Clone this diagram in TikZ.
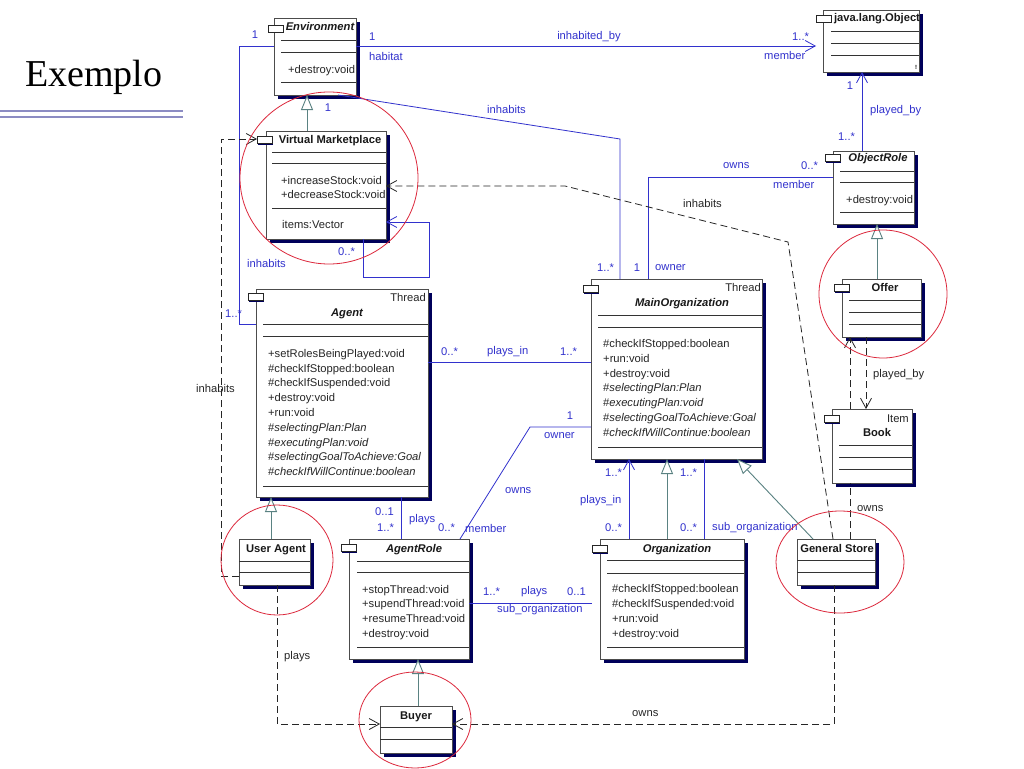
\documentclass[tikz,border=0pt]{standalone}
\usepackage{fontspec}
\setmainfont{Liberation Sans}
\newfontfamily\titlefont{Liberation Serif}
\usetikzlibrary{arrows.meta,shadows}
\definecolor{umlblue}{RGB}{50,50,205}
\definecolor{gencol}{RGB}{90,130,130}
\definecolor{shadowcol}{RGB}{0,0,90}
\definecolor{ringcol}{RGB}{220,40,60}
\definecolor{rulecol}{RGB}{140,140,195}
\newcommand\umlsep[3]{\draw[sepl] (#1,#3) -- (#2,#3);}
\begin{document}
\begin{tikzpicture}[x=1pt,y=-1pt,
  cls/.style={draw=black!70, line width=0.9pt, fill=white, anchor=north west, inner sep=0pt, outer sep=0pt,
    drop shadow={shadow xshift=3.8pt, shadow yshift=-3.8pt, fill=shadowcol, opacity=1}},
  ico/.style={draw=black!85, line width=0.8pt, fill=white, anchor=north west, inner sep=0pt, outer sep=0pt,
    minimum width=15pt, minimum height=7pt,
    drop shadow={shadow xshift=1pt, shadow yshift=-1.5pt, fill=shadowcol, opacity=1}},
  sepl/.style={draw=black!80, line width=0.8pt},
  txt/.style={font=\fontsize{11.2}{13}\selectfont, text=black!85, inner sep=0pt, anchor=base west},
  rtxt/.style={font=\fontsize{11.2}{13}\selectfont, text=black!85, inner sep=0pt, anchor=base east},
  ttl/.style={font=\fontsize{11.2}{13}\selectfont\bfseries, text=black!90, inner sep=0pt, anchor=base},
  ttli/.style={font=\fontsize{11.2}{13}\selectfont\bfseries\itshape, text=black!90, inner sep=0pt, anchor=base},
  lbl/.style={font=\fontsize{11.2}{13}\selectfont, text=umlblue, inner sep=0pt, anchor=west},
  blbl/.style={font=\fontsize{11.2}{13}\selectfont, text=black!85, inner sep=0pt, anchor=west},
  assoc/.style={draw=umlblue, line width=0.8pt},
  opena/.style={-{Straight Barb[length=10pt,width=11pt]}},
  gen/.style={draw=gencol, line width=0.9pt, -{Triangle[length=15pt,width=12pt,fill=white]}},
  dep/.style={draw=black!85, line width=0.8pt, dash pattern=on 7pt off 4pt, -{Straight Barb[length=10pt,width=11pt]}},
  depn/.style={draw=black!85, line width=0.8pt, dash pattern=on 7pt off 4pt},
  ring/.style={draw=ringcol, line width=0.8pt}
]
\fill[white] (0,0) rectangle (1024,768);
\useasboundingbox (0,0) rectangle (1024,768);

% title
\node[font=\titlefont\fontsize{38}{40}\selectfont, inner sep=0pt, anchor=base west] (title) at (25,86) {Exemplo};
\draw[rulecol, line width=1.4pt] (0,111) -- (183,111);
\draw[rulecol, line width=1.4pt] (0,117) -- (183,117);

% ---------- classes ----------
% Environment
\node[cls, minimum width=82pt, minimum height=77pt] (env) at (274,18) {};
\node[ico] (envi) at (268,25) {};
\umlsep{281}{356}{40}\umlsep{281}{356}{52}\umlsep{281}{356}{82}
\node[ttli] (envt) at (320,31) {Environment};
\node[txt] (enva) at (288,73) {+destroy:void};

% java.lang.Object
\node[cls, minimum width=96pt, minimum height=62pt] (obj) at (823,10) {};
\node[ico] (obji) at (816,15) {};
\umlsep{831}{919}{31}\umlsep{831}{919}{43}\umlsep{831}{919}{55}
\node[ttl] (objt) at (877,22) {java.lang.Object};
\node[font=\fontsize{6}{7}\selectfont\bfseries, inner sep=0pt] (objm) at (916,67) {!};

% Virtual Marketplace
\node[cls, minimum width=120pt, minimum height=108pt] (vm) at (266,131) {};
\node[ico] (vmi) at (257,136) {};
\umlsep{272}{386}{152}\umlsep{272}{386}{163}\umlsep{272}{386}{208}
\node[ttl] (vmt) at (330,143) {Virtual Marketplace};
\node[txt] (vma) at (281,184) {+increaseStock:void};
\node[txt] (vmb) at (281,198) {+decreaseStock:void};
\node[txt] (vmc) at (282,228) {items:Vector};

% ObjectRole
\node[cls, minimum width=81pt, minimum height=73pt] (orole) at (833,151) {};
\node[ico] (oroi) at (825,154) {};
\umlsep{840}{914}{171}\umlsep{840}{914}{182}\umlsep{840}{914}{212}
\node[ttli] (orolet) at (878,161) {ObjectRole};
\node[txt] (orolea) at (846,203) {+destroy:void};

% Offer
\node[cls, minimum width=79pt, minimum height=58pt] (offer) at (842,279) {};
\node[ico] (offi) at (834,284) {};
\umlsep{849}{921}{300}\umlsep{849}{921}{312}\umlsep{849}{921}{324}
\node[ttl] (offert) at (885,291) {Offer};

% Agent
\node[cls, minimum width=172pt, minimum height=208pt] (agent) at (256,289) {};
\node[ico] (agi) at (248,293) {};
\umlsep{263}{428}{324}\umlsep{263}{428}{336}\umlsep{263}{428}{486}
\node[rtxt] (agth) at (426,301) {Thread};
\node[ttli] (agt) at (347,316) {Agent};
\node[txt] (ag1) at (268,357) {+setRolesBeingPlayed:void};
\node[txt] (ag2) at (268,372) {\#checkIfStopped:boolean};
\node[txt] (ag3) at (268,386.5) {\#checkIfSuspended:void};
\node[txt] (ag4) at (268,401.5) {+destroy:void};
\node[txt] (ag5) at (268,416) {+run:void};
\node[txt] (ag6) at (268,431) {\#\textit{selectingPlan:Plan}};
\node[txt] (ag7) at (268,446) {\#\textit{executingPlan:void}};
\node[txt] (ag8) at (268,460.5) {\#\textit{selectingGoalToAchieve:Goal}};
\node[txt] (ag9) at (268,475) {\#\textit{checkIfWillContinue:boolean}};

% MainOrganization
\node[cls, minimum width=171pt, minimum height=180pt] (mainorg) at (591,279) {};
\node[ico] (moi) at (583,285) {};
\umlsep{598}{762}{315}\umlsep{598}{762}{327}\umlsep{598}{762}{447}
\node[rtxt] (moth) at (761,291) {Thread};
\node[ttli] (mot) at (682,306) {MainOrganization};
\node[txt] (mo1) at (603,347) {\#checkIfStopped:boolean};
\node[txt] (mo2) at (603,362) {+run:void};
\node[txt] (mo3) at (603,377) {+destroy:void};
\node[txt] (mo4) at (603,391.5) {\#\textit{selectingPlan:Plan}};
\node[txt] (mo5) at (603,406.5) {\#\textit{executingPlan:void}};
\node[txt] (mo6) at (603,421.5) {\#\textit{selectingGoalToAchieve:Goal}};
\node[txt] (mo7) at (603,436.5) {\#\textit{checkIfWillContinue:boolean}};

% Book
\node[cls, minimum width=80pt, minimum height=74pt] (book) at (832,409) {};
\node[ico] (booki) at (824,415) {};
\umlsep{839}{912}{445}\umlsep{839}{912}{457}\umlsep{839}{912}{469}
\node[rtxt] (bookit) at (909,422) {Item};
\node[ttl] (bookt) at (877,436) {Book};

% General Store
\node[cls, minimum width=78pt, minimum height=46pt] (gstore) at (797,539) {};
\umlsep{797}{875}{560}\umlsep{797}{875}{572}
\node[ttl] (gstoret) at (837,552) {General Store};

% User Agent
\node[cls, minimum width=71pt, minimum height=46pt] (uagent) at (239,539) {};
\umlsep{239}{310}{561}\umlsep{239}{310}{572}
\node[ttl] (uagentt) at (276,552) {User Agent};

% AgentRole
\node[cls, minimum width=120pt, minimum height=120pt] (arole) at (349,539) {};
\node[ico] (aroi) at (341,544) {};
\umlsep{357}{469}{561}\umlsep{357}{469}{572}\umlsep{357}{469}{647}
\node[ttli] (arolet) at (414,552) {AgentRole};
\node[txt] (ar1) at (362,593) {+stopThread:void};
\node[txt] (ar2) at (362,607.5) {+supendThread:void};
\node[txt] (ar3) at (362,622) {+resumeThread:void};
\node[txt] (ar4) at (362,637) {+destroy:void};

% Organization
\node[cls, minimum width=144pt, minimum height=120pt] (org) at (600,539) {};
\node[ico] (orgi) at (592,545) {};
\umlsep{607}{744}{560}\umlsep{607}{744}{573}\umlsep{607}{744}{647}
\node[ttli] (orgt) at (677,552) {Organization};
\node[txt] (or1) at (612,592) {\#checkIfStopped:boolean};
\node[txt] (or2) at (612,607) {\#checkIfSuspended:void};
\node[txt] (or3) at (612,622) {+run:void};
\node[txt] (or4) at (612,637) {+destroy:void};

% Buyer
\node[cls, minimum width=72pt, minimum height=47pt] (buyer) at (380,706) {};
\umlsep{380}{452}{727}\umlsep{380}{452}{739}
\node[ttl] (buyert) at (416,719) {Buyer};

% ---------- connectors ----------
% inhabited_by
\draw[assoc, opena] (env.east |- 0,46) -- (obji.west |- 0,46);
\node[lbl] at (369,37) {1};
\node[lbl] at (369,56) {habitat};
\node[lbl, anchor=center] at (589,37) {inhabited\_by};
\node[lbl] at (792,37) {1..*};
\node[lbl] at (764,55) {member};

% inhabits Environment - MainOrganization
\draw[assoc] (env.south -| 338,0) -- (620,139) -- (mainorg.north -| 620,0);
\node[lbl, anchor=center] at (328,108) {1};
\node[lbl] at (487,109) {inhabits};
\node[lbl] at (597,268) {1..*};
\node[lbl, anchor=center] at (637,268) {1};
\node[lbl] at (655,268) {owner};

% owns MainOrganization - ObjectRole
\draw[assoc] (mainorg.north -| 648,0) |- (orole.west |- 0,177);
\node[lbl] at (723,166) {owns};
\node[lbl] at (801,166) {0..*};
\node[lbl] at (773,184) {member};

% played_by ObjectRole -> Object
\draw[assoc, opena] (orole.north -| 862,0) -- (obj.south -| 862,0);
\node[lbl, anchor=center] at (850,86) {1};
\node[lbl] at (870,111) {played\_by};
\node[lbl] at (838,137) {1..*};

% generalizations
\draw[gen] (offer.north -| 877,0) -- (orole.south -| 877,0);
\draw[gen] (vm.north -| 307,0) -- (env.south -| 307,0);
\draw[gen] (org.north -| 667,0) -- (mainorg.south -| 667,0);
\draw[gen] (gstore.north -| 813,0) -- (mainorg.south -| 737,0);
\draw[gen] (uagent.north -| 271,0) -- (agent.south -| 271,0);
\draw[gen] (buyer.north -| 418,0) -- (arole.south -| 418,0);

% VM self association
\draw[assoc, opena] (vm.south -| 363,0) -- (363,277) -- (429,277) -- (429,222) -- (vm.east |- 0,222);
\node[lbl] at (338,252) {0..*};

% inhabits Agent - Environment
\draw[assoc] (env.west |- 0,46) -- (239,46) -- (239,324) -- (agent.west |- 0,324);
\node[lbl, anchor=center] at (255,35) {1};
\node[lbl] at (247,263) {inhabits};
\node[lbl] at (225,314) {1..*};

% dashed inhabits User Agent -> VM
\draw[dep] (uagent.west |- 0,576) -- (221,576) -- (221,139) -- (vmi.west |- 0,139);
\node[blbl] at (196,388) {inhabits};

% dashed inhabits General Store -> VM
\draw[dep] (gstore.north -| 833,0) -- (788,242) -- (565,186) -- (vm.east |- 0,186);
\node[blbl] at (683,203) {inhabits};

% played_by Offer -> Book
\draw[dep] (offer.south -| 866,0) -- (book.north -| 866,0);
\node[blbl] at (873,375) {played\_by};

% owns General Store -> Offer (behind Book)
\draw[depn] (gstore.north -| 850,0) -- (book.south -| 850,0);
\draw[dep] (book.north -| 850,0) -- (offer.south -| 850,0);
\node[blbl] at (857,509) {owns};

% plays User Agent -> Buyer
\draw[dep] (uagent.south -| 277,0) |- (buyer.west |- 0,724);
\node[blbl] at (284,657) {plays};

% owns General Store -> Buyer
\draw[dep] (gstore.south -| 834,0) |- (buyer.east |- 0,724);
\node[blbl] at (632,714) {owns};

% plays_in Agent - MainOrganization
\draw[assoc] (agent.east |- 0,362) -- (mainorg.west |- 0,362);
\node[lbl] at (441,352) {0..*};
\node[lbl] at (487,352) {plays\_in};
\node[lbl] at (560,352) {1..*};

% owns AgentRole - MainOrganization
\draw[assoc] (mainorg.west |- 0,427) -- (530,427) -- (arole.north -| 460,0);
\node[lbl, anchor=center] at (570,416) {1};
\node[lbl] at (544,436) {owner};
\node[lbl] at (505,491) {owns};
\node[lbl] at (438,528) {0..*};
\node[lbl] at (465,528) {member};

% plays Agent - AgentRole
\draw[assoc] (agent.south -| 401,0) -- (arole.north -| 401,0);
\node[lbl] at (375,512) {0..1};
\node[lbl] at (377,528) {1..*};
\node[lbl] at (409,520) {plays};

% plays AgentRole - Organization
\draw[assoc] (arole.east |- 0,603) -- (orgi.west |- 0,603);
\node[lbl] at (483,592) {1..*};
\node[lbl] at (521,592) {plays};
\node[lbl] at (567,592) {0..1};
\node[lbl] at (497,610) {sub\_organization};

% plays_in Organization -> MainOrganization
\draw[assoc, opena] (org.north -| 629,0) -- (mainorg.south -| 629,0);
\node[lbl] at (605,473) {1..*};
\node[lbl] at (580,501) {plays\_in};
\node[lbl] at (605,528) {0..*};

% sub_organization
\draw[assoc] (org.north -| 704,0) -- (mainorg.south -| 704,0);
\node[lbl] at (680,473) {1..*};
\node[lbl] at (680,528) {0..*};
\node[lbl] at (712,528) {sub\_organization};

% ---------- red rings ----------
\draw[ring] (329,178) ellipse [x radius=89, y radius=86];
\draw[ring] (883,294) ellipse [x radius=64, y radius=64];
\draw[ring] (840,562) ellipse [x radius=64, y radius=51];
\draw[ring] (277,560) ellipse [x radius=56, y radius=55];
\draw[ring] (415,720) ellipse [x radius=56, y radius=48];
\end{tikzpicture}
\end{document}
